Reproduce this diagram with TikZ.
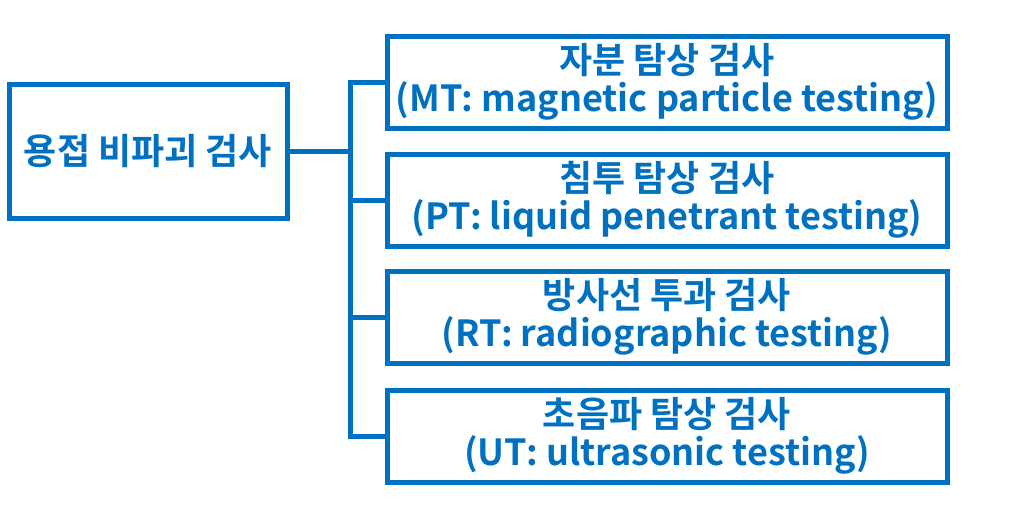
\documentclass[tikz,border=0pt]{standalone}
\usepackage{fontspec}
\newfontfamily\kr{Noto Sans CJK KR Bold}
\begin{document}
\begin{tikzpicture}[x=1pt,y=-1pt,
  bx/.style={draw=blueC,line width=5pt,inner sep=0pt,text=blueC,font=\kr\fontsize{36}{38}\selectfont,align=center},
  ln/.style={draw=blueC,line width=5pt}]
\definecolor{blueC}{HTML}{0070C0}
\useasboundingbox (0,0) rectangle (1015,517);
\node[bx,minimum width=278,minimum height=134] (m) at (148,151) {용접 비파괴 검사};
\node[bx,minimum width=560,minimum height=92] (a) at (667,82) {자분 탐상 검사\\(MT: magnetic particle testing)};
\node[bx,minimum width=560,minimum height=92] (b) at (667,200) {침투 탐상 검사\\(PT: liquid penetrant testing)};
\node[bx,minimum width=560,minimum height=92] (c) at (667,317) {방사선 투과 검사\\(RT: radiographic testing)};
\node[bx,minimum width=560,minimum height=92] (d) at (667,436) {초음파 탐상 검사\\(UT: ultrasonic testing)};
\coordinate (j) at (350,151);
\draw[ln] (m.east) -- (j);
\draw[ln,line join=miter] (a.west) -- (350,82) -- (350,436) -- (d.west);
\draw[ln] (350,200) -- (b.west);
\draw[ln] (350,317) -- (c.west);
\end{tikzpicture}
\end{document}
